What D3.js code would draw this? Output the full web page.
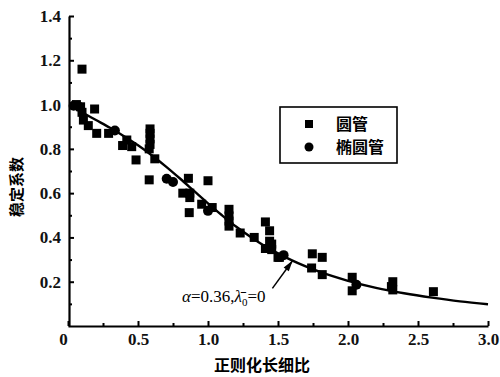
<!DOCTYPE html>
<html><head><meta charset="utf-8">
<script src="https://cdn.jsdelivr.net/npm/d3@7/dist/d3.min.js"></script>
<style>
html,body{margin:0;padding:0;background:#fff;}
svg{display:block;}
</style></head>
<body>
<svg id="chart" width="500" height="377"></svg>
<script>
// ---- data ----
const xTicks = [0, 0.5, 1.0, 1.5, 2.0, 2.5, 3.0];
const xMinorTicks = [0.25, 0.75, 1.25, 1.75, 2.25, 2.75];
const yTicks = [0.2, 0.4, 0.6, 0.8, 1.0, 1.2, 1.4];
const yMinorTicks = [0.1, 0.3, 0.5, 0.7, 0.9, 1.1, 1.3];
const seriesNames = ["圆管", "椭圆管"];
const roundTubeX = [0.10,0.06,0.09,0.10,0.19,0.11,0.145,0.205,0.29,0.39,0.42,0.455,0.486,0.586,0.586,0.586,0.586,0.58,0.58,0.62,0.86,1.00,0.82,0.87,0.87,0.866,0.955,1.03,1.15,1.15,1.15,1.15,1.23,1.33,1.41,1.44,1.44,1.41,1.455,1.50,1.455,1.51,1.745,1.816,1.74,1.816,2.03,2.03,2.31,2.32,2.32,2.61];
const roundTubeY = [1.16,1.00,0.99,0.965,0.98,0.93,0.905,0.87,0.87,0.815,0.84,0.81,0.75,0.89,0.87,0.845,0.82,0.80,0.66,0.755,0.667,0.656,0.60,0.60,0.58,0.512,0.55,0.535,0.527,0.497,0.474,0.451,0.42,0.40,0.47,0.43,0.383,0.35,0.345,0.31,0.37,0.31,0.326,0.31,0.262,0.232,0.22,0.159,0.178,0.20,0.163,0.155];
const ellipseTubeX = [0.04,0.07,0.335,0.705,0.75,1.00,1.54,2.06];
const ellipseTubeY = [0.995,0.995,0.883,0.665,0.65,0.52,0.32,0.186];
const curveX = [0.05,0.1,0.2,0.3,0.4,0.5,0.6,0.7,0.8,0.9,1.0,1.1,1.2,1.3,1.4,1.5,1.6,1.8,2.0,2.2,2.4,2.6,2.8,3.0];
const curveY = [0.982,0.965,0.93,0.895,0.857,0.816,0.770,0.720,0.666,0.610,0.554,0.500,0.449,0.404,0.363,0.328,0.296,0.244,0.204,0.1725,0.148,0.128,0.111,0.098];
const annotation = {tail:[1.46,0.17], tip:[1.605,0.296]};

// ---- chart ----
const svg = d3.select("#chart");
const x = d3.scaleLinear().domain([0,3]).range([68,488]);
const y = d3.scaleLinear().domain([0,1.4]).range([326,16]);
const serif = "'Liberation Serif','Times New Roman',serif";
const cjk = "'Noto Sans CJK SC',sans-serif";

// axes
const gx = svg.append("g").attr("transform","translate(0,326)");
gx.call(d3.axisBottom(x).tickValues(xTicks).tickSizeInner(-5).tickSizeOuter(0).tickPadding(7)
  .tickFormat(d => d===0 ? "0" : d.toFixed(1)));
const gxm = svg.append("g").attr("transform","translate(0,326)");
gxm.call(d3.axisBottom(x).tickValues(xMinorTicks).tickSizeInner(-3).tickSizeOuter(0).tickFormat(""));
gxm.select(".domain").remove();

const gy = svg.append("g").attr("transform","translate(69,0)");
gy.call(d3.axisLeft(y).tickValues(yTicks).tickSizeInner(-5).tickSizeOuter(0).tickPadding(8)
  .tickFormat(d => d.toFixed(1)));
const gym = svg.append("g").attr("transform","translate(69,0)");
gym.call(d3.axisLeft(y).tickValues(yMinorTicks).tickSizeInner(-3).tickSizeOuter(0).tickFormat(""));
gym.select(".domain").remove();

svg.selectAll(".domain").attr("stroke","#000").attr("stroke-width",2.2);
svg.selectAll(".tick line").attr("stroke","#000").attr("stroke-width",2);
svg.selectAll(".tick text").attr("font-family",serif).attr("font-size",17).attr("font-weight","bold").attr("fill","#111");
gx.selectAll(".tick text").filter(d => d===0).attr("dx",-5);

// axis titles
svg.append("text").attr("x",262).attr("y",371).attr("text-anchor","middle")
  .attr("font-family",cjk).attr("font-size",16).attr("font-weight","bold").text("正则化长细比");
svg.append("text").attr("transform","translate(22,187) rotate(-90)").attr("text-anchor","middle")
  .attr("font-family",cjk).attr("font-size",15).attr("font-weight","bold").text("稳定系数");

// curve
const curveData = curveX.map((v,i)=>[v,curveY[i]]);
svg.append("path").datum(curveData)
  .attr("d", d3.line().x(d=>x(d[0])).y(d=>y(d[1])).curve(d3.curveMonotoneX))
  .attr("fill","none").attr("stroke","#000").attr("stroke-width",2.4);

// points
const sq = 9;
svg.append("g").selectAll("rect").data(roundTubeX.map((v,i)=>[v,roundTubeY[i]])).join("rect")
  .attr("x",d=>x(d[0])-sq/2).attr("y",d=>y(d[1])-sq/2).attr("width",sq).attr("height",sq).attr("fill","#000");
svg.append("g").selectAll("circle").data(ellipseTubeX.map((v,i)=>[v,ellipseTubeY[i]])).join("circle")
  .attr("cx",d=>x(d[0])).attr("cy",d=>y(d[1])).attr("r",5).attr("fill","#000");

// legend
const lg = svg.append("g");
lg.append("rect").attr("x",280).attr("y",107).attr("width",117).attr("height",56)
  .attr("fill","#fff").attr("stroke","#000").attr("stroke-width",1.6);
lg.append("rect").attr("x",309-4).attr("y",124-4).attr("width",8).attr("height",8).attr("fill","#000");
lg.append("circle").attr("cx",309).attr("cy",147).attr("r",4.5).attr("fill","#000");
lg.append("text").attr("x",336).attr("y",130).attr("font-family",cjk).attr("font-size",16).attr("font-weight","bold").text(seriesNames[0]);
lg.append("text").attr("x",336).attr("y",153).attr("font-family",cjk).attr("font-size",16).attr("font-weight","bold").text(seriesNames[1]);

// annotation arrow
const ax1 = x(annotation.tail[0]), ay1 = y(annotation.tail[1]);
const ax2 = x(annotation.tip[0]), ay2 = y(annotation.tip[1]);
svg.append("line").attr("x1",ax1).attr("y1",ay1).attr("x2",ax2).attr("y2",ay2)
  .attr("stroke","#000").attr("stroke-width",1.5);
const ang = Math.atan2(ay2-ay1, ax2-ax1);
const hl = 11, hw = 3.2;
const bx = ax2 - hl*Math.cos(ang), by = ay2 - hl*Math.sin(ang);
svg.append("path").attr("d",
  `M${ax2},${ay2}L${bx + hw*Math.sin(ang)},${by - hw*Math.cos(ang)}L${bx - hw*Math.sin(ang)},${by + hw*Math.cos(ang)}Z`)
  .attr("fill","#000");

const at = svg.append("text").attr("x",182).attr("y",302).attr("font-family",serif).attr("font-size",17).attr("fill","#000");
at.append("tspan").attr("font-style","italic").text("α");
at.append("tspan").text("=0.36,");
at.append("tspan").attr("font-style","italic").text("λ\u0304");
at.append("tspan").attr("font-size",11).attr("dy",4).text("0");
at.append("tspan").attr("dy",-4).text("=0");
</script>
</body></html>
